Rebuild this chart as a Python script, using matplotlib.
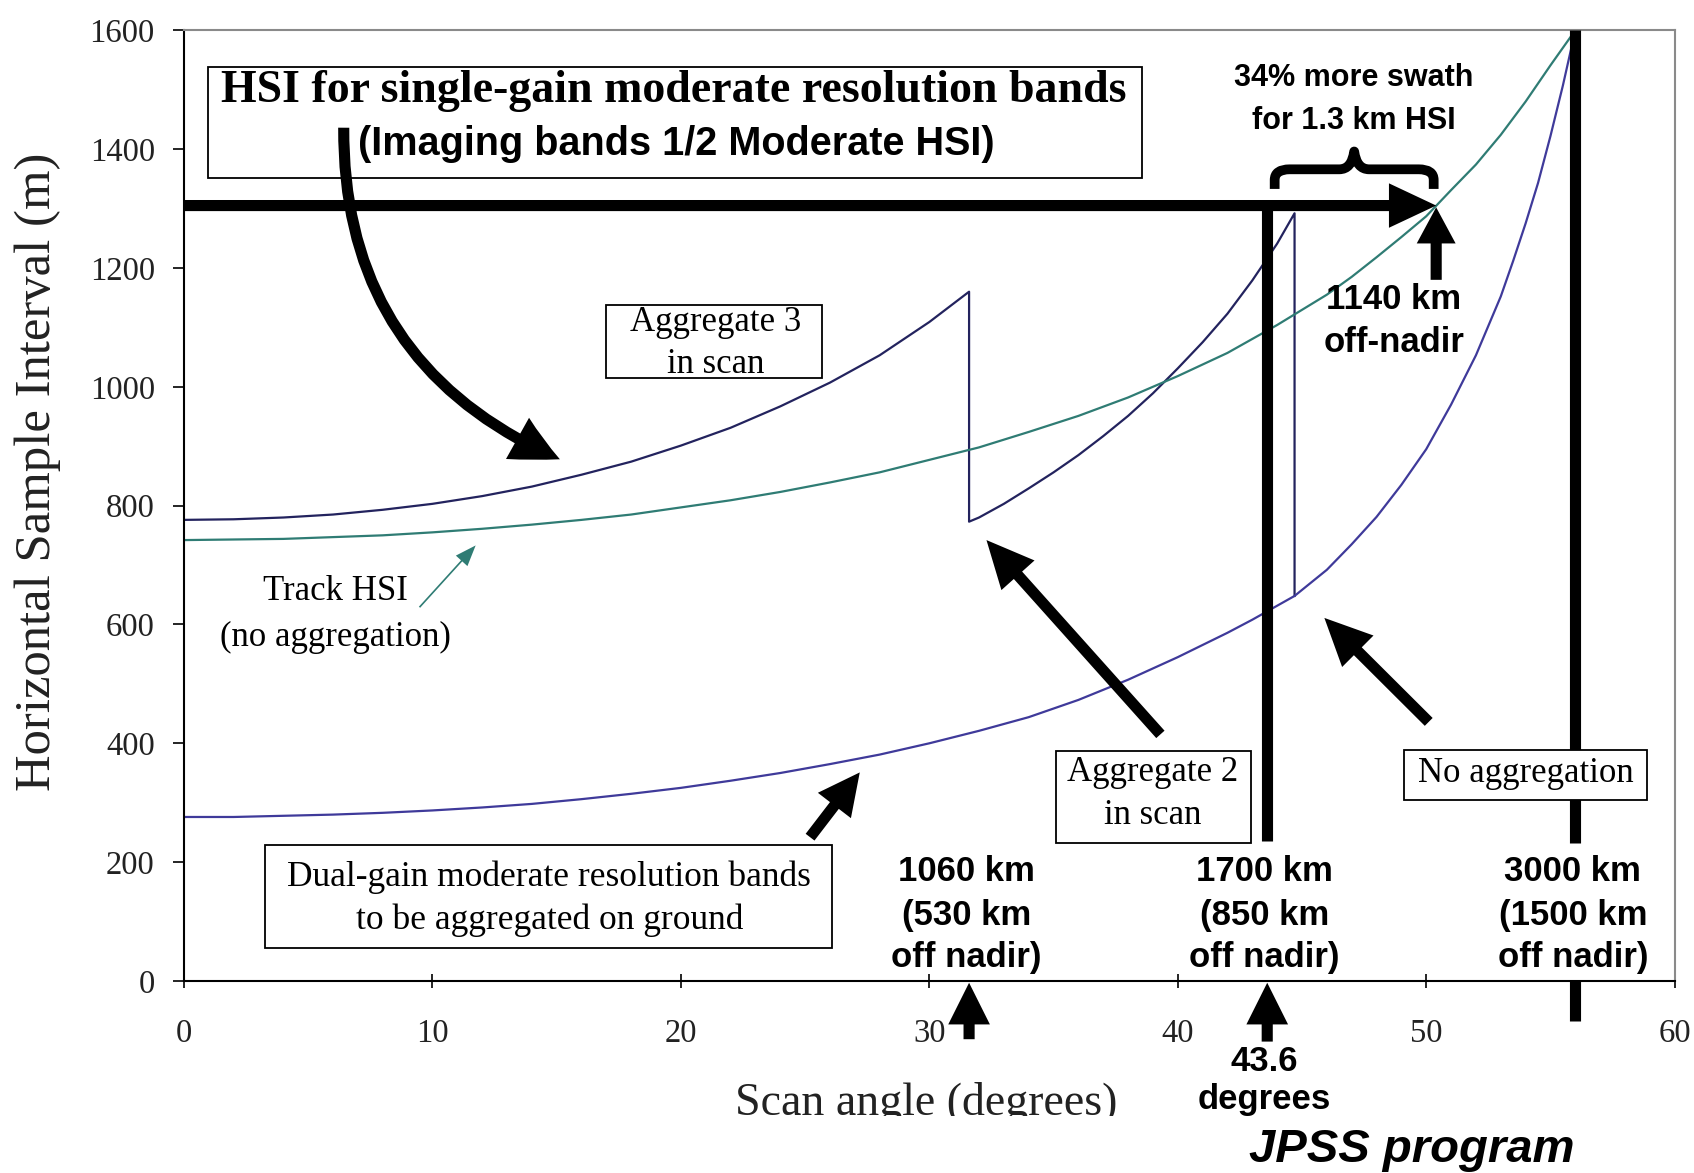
import matplotlib
matplotlib.use("Agg")
import matplotlib.pyplot as plt
from matplotlib.patches import FancyArrowPatch, Rectangle, PathPatch, ArrowStyle
from matplotlib.path import Path
from matplotlib.transforms import Bbox, TransformedBbox

plt.rcParams['font.family'] = ['Liberation Serif', 'DejaVu Serif']

# ---------------- data ----------------
scan_agg3 = [0, 2, 4, 6, 8, 10, 12, 14, 16, 18, 20, 22, 24, 26, 28, 30, 31.6]
hsi_agg3 = [776, 777, 780, 785, 793, 803, 816, 832, 852, 874, 901, 931, 967,
            1007, 1053, 1109, 1160]

scan_agg2 = [31.6, 32, 33, 34, 35, 36, 37, 38, 39, 40, 41, 42, 43, 44, 44.7]
hsi_agg2 = [773, 780, 803, 829, 856, 885, 917, 951, 989, 1031, 1075, 1123,
            1179, 1241, 1292]

scan_dual = [0, 2, 4, 6, 8, 10, 12, 14, 16, 18, 20, 22, 24, 26, 28, 30, 32,
             34, 36, 38, 40, 42, 43, 44.7, 46, 47, 48, 49, 50, 51, 52, 53,
             53.5, 54, 54.5, 55, 55.5, 56]
hsi_dual = [276, 276, 278, 280, 283, 287, 292, 298, 306, 315, 325, 337, 350,
            365, 381, 400, 421, 444, 473, 507, 545, 586, 608, 648, 692, 735,
            781, 835, 895, 970, 1053, 1152, 1212, 1275, 1343, 1422, 1507, 1600]

scan_track = [0, 2, 4, 6, 8, 10, 12, 14, 16, 18, 20, 22, 24, 26, 28, 30, 32,
              34, 36, 38, 40, 42, 44, 46, 47, 48, 49, 50, 51, 52, 53, 54, 55,
              56]
hsi_track = [742, 743, 744, 747, 750, 755, 761, 768, 776, 785, 797, 809, 823,
             839, 856, 877, 898, 924, 951, 982, 1018, 1057, 1104, 1155, 1185,
             1218, 1252, 1287, 1331, 1374, 1424, 1480, 1541, 1600]

swath_angles = [31.6, 43.6, 56.0]
swath_lines = [["1060 km", "(530 km", "off nadir)"],
               ["1700 km", "(850 km", "off nadir)"],
               ["3000 km", "(1500 km", "off nadir)"]]
target_hsi = 1305
target_angle = 50.4

x_ticks = [0, 10, 20, 30, 40, 50, 60]
y_ticks = [0, 200, 400, 600, 800, 1000, 1200, 1400, 1600]

# ---------------- figure ----------------
fig = plt.figure(figsize=(16.94, 11.73), dpi=100)
ax = fig.add_axes([0.1086, 0.1637, 0.8800, 0.8105])
ax.set_xlim(0, 60)
ax.set_ylim(0, 1600)
ax.set_xticks(x_ticks)
ax.set_yticks(y_ticks)
ax.tick_params(axis='y', direction='out', length=8, width=1.2, pad=13,
               labelsize=23.5, labelcolor='#222222')
ax.tick_params(axis='x', direction='inout', length=10, width=1.2, pad=22,
               labelsize=23.5, labelcolor='#222222')
for s in ['top', 'right']:
    ax.spines[s].set_color('#8a8a8a')
    ax.spines[s].set_linewidth(1.5)
for s in ['left', 'bottom']:
    ax.spines[s].set_color('black')
    ax.spines[s].set_linewidth(1.5)

NAVY = '#23235e'
DUAL = '#3f3a9a'
TEAL = '#2f7c74'
SANS = ['Liberation Sans', 'DejaVu Sans']

# curves
i_hand = scan_dual.index(44.7)
agg_x = scan_agg3 + scan_agg2 + [scan_agg2[-1]]
agg_y = hsi_agg3 + hsi_agg2 + [hsi_dual[i_hand]]
ax.plot(agg_x, agg_y, color=NAVY, lw=1.6, zorder=2)
ax.plot(scan_dual, hsi_dual, color=DUAL, lw=1.6, zorder=2)
ax.plot(scan_track, hsi_track, color=TEAL, lw=1.6, zorder=2)

# thick vertical markers
ax.plot([swath_angles[1], swath_angles[1]], [target_hsi, 236], color='black',
        lw=8, solid_capstyle='butt', zorder=3)
ax.plot([swath_angles[2], swath_angles[2]], [1600, 233], color='black',
        lw=8, solid_capstyle='butt', zorder=3)
ax.plot([swath_angles[2], swath_angles[2]], [0, -67], color='black',
        lw=8, solid_capstyle='butt', zorder=3, clip_on=False)


def box(x0, x1, y0, y1, z=3.5):
    ax.add_patch(Rectangle((x0, y0), x1 - x0, y1 - y0, facecolor='white',
                           edgecolor='black', lw=1.3, zorder=z))


def arrow(p0, p1, ms=40, hl=0.85, hw=0.8, tw=0.2, color='black', rad=0.0,
          clip=False, z=5):
    a = FancyArrowPatch(p0, p1,
                        arrowstyle=ArrowStyle.Simple(head_length=hl,
                                                     head_width=hw,
                                                     tail_width=tw),
                        mutation_scale=ms, facecolor=color, edgecolor=color,
                        lw=0, connectionstyle=f"arc3,rad={rad}",
                        shrinkA=0, shrinkB=0, zorder=z)
    a.set_clip_on(clip)
    ax.add_patch(a)


# Title box
box(0.96, 38.57, 1351, 1538)
ax.text(19.7, 1498, "HSI for single-gain moderate resolution bands",
        fontsize=33, fontweight='bold', ha='center', va='center', zorder=6)
ax.text(19.8, 1409, "(Imaging bands 1/2 Moderate HSI)", family=SANS,
        fontsize=28.5, fontweight='bold', ha='center', va='center', zorder=6)

# big horizontal arrow to 1.3 km
arrow((0, target_hsi), (target_angle, target_hsi), ms=40, hl=0.85, hw=0.8,
      tw=0.2)
# up arrow to target
arrow((target_angle, 1180), (target_angle, target_hsi - 3), ms=40, hl=0.65,
      hw=0.7, tw=0.2)

# brace
bx0, bx1, bc = swath_angles[1] + 0.3, target_angle - 0.1, 47.1
verts = [(bx0, 1333), (bx0, 1348), (bx0, 1366), (bx0 + 0.6, 1366),
         (bc - 0.6, 1366), (bc - 0.1, 1366), (bc, 1396), (bc + 0.1, 1366),
         (bc + 0.6, 1366), (bx1 - 0.6, 1366), (bx1, 1366), (bx1, 1348),
         (bx1, 1333)]
codes = [Path.MOVETO, Path.LINETO, Path.CURVE3, Path.CURVE3, Path.LINETO,
         Path.CURVE3, Path.CURVE3, Path.CURVE3, Path.CURVE3, Path.LINETO,
         Path.CURVE3, Path.CURVE3, Path.LINETO]
ax.add_patch(PathPatch(Path(verts, codes), facecolor='none',
                       edgecolor='black', lw=7, zorder=5, capstyle='butt',
                       joinstyle='round'))
ax.text(bc, 1520, "34% more swath", family=SANS, fontsize=22,
        fontweight='bold', ha='center', va='center', zorder=6)
ax.text(bc, 1447, "for 1.3 km HSI", family=SANS, fontsize=22,
        fontweight='bold', ha='center', va='center', zorder=6)
ax.text(48.7, 1147, "1140 km", family=SANS, fontsize=25, fontweight='bold',
        ha='center', va='center', zorder=6)
ax.text(48.7, 1075, "off-nadir", family=SANS, fontsize=25, fontweight='bold',
        ha='center', va='center', zorder=1.8)

# curved arrow from title box
arrow((6.43, 1436), (15.13, 878), ms=40, hl=0.85, hw=0.85, tw=0.2, rad=0.33)

# Aggregate 3 box
box(17.0, 25.7, 1015, 1138, z=1.5)
ax.text(21.4, 1109, "Aggregate 3", fontsize=25, ha='center', va='center',
        zorder=6)
ax.text(21.4, 1038, "in scan", fontsize=25, ha='center', va='center',
        zorder=6)

# Track HSI label
ax.text(6.1, 655, "Track HSI", fontsize=25, ha='center', va='center')
ax.text(6.1, 578, "(no aggregation)", fontsize=25, ha='center', va='center')
arrow((9.48, 629), (11.74, 733), ms=15, hl=1.0, hw=0.75, tw=0.08,
      color=TEAL)

# Dual-gain box
box(3.26, 26.1, 56, 229)
ax.text(14.7, 175, "Dual-gain moderate resolution bands", fontsize=25.5,
        ha='center', va='center', zorder=6)
ax.text(14.7, 102, "to be aggregated on ground", fontsize=25.5,
        ha='center', va='center', zorder=6)
arrow((25.2, 242), (27.2, 351), ms=40, hl=0.75, hw=0.75, tw=0.2)

# Aggregate 2 box
box(35.1, 42.96, 233, 387)
ax.text(39.0, 351, "Aggregate 2", fontsize=25, ha='center', va='center',
        zorder=6)
ax.text(39.0, 278, "in scan", fontsize=25, ha='center', va='center',
        zorder=6)
arrow((39.3, 415), (32.3, 742), ms=40, hl=0.85, hw=0.8, tw=0.2)

# No aggregation box
box(49.1, 58.9, 305, 389)
ax.text(54.0, 349, "No aggregation", fontsize=25, ha='center', va='center',
        zorder=6)
arrow((50.1, 436), (45.9, 611), ms=40, hl=0.85, hw=0.8, tw=0.2)

# swath labels
for ang, lines in zip(swath_angles, swath_lines):
    for txt, yv in zip(lines, [185, 111, 40]):
        ax.text(ang - 0.1, yv, txt, family=SANS, fontsize=25,
                fontweight='bold', ha='center', va='center', zorder=6)

# up arrows below the axis
arrow((swath_angles[0], -98), (swath_angles[0], -3), ms=40, hl=0.75,
      hw=0.75, tw=0.2)
arrow((swath_angles[1], -102), (swath_angles[1], -3), ms=40, hl=0.75,
      hw=0.75, tw=0.2)
ax.text(43.5, -136, "43.6", family=SANS, fontsize=25, fontweight='bold',
        ha='center', va='center')
ax.text(43.5, -200, "degrees", family=SANS, fontsize=25, fontweight='bold',
        ha='center', va='center')

# axis labels
fig.text(0.0224, 0.598, "Horizontal Sample Interval (m)", rotation=90,
         fontsize=36.5, ha='center', va='center', color='#222222')
xl = fig.text(0.547, 0.059, "Scan angle (degrees)", fontsize=33,
              ha='center', va='center', color='#222222')
xl.set_clip_box(TransformedBbox(Bbox([[0, 0.0486], [1, 1]]), fig.transFigure))
xl.set_clip_on(True)

fig.text(0.8336, 0.0196, "JPSS program", family=SANS, fontsize=34,
         fontweight='bold', style='italic', ha='center', va='center')

fig.savefig("out.png", dpi=100)
